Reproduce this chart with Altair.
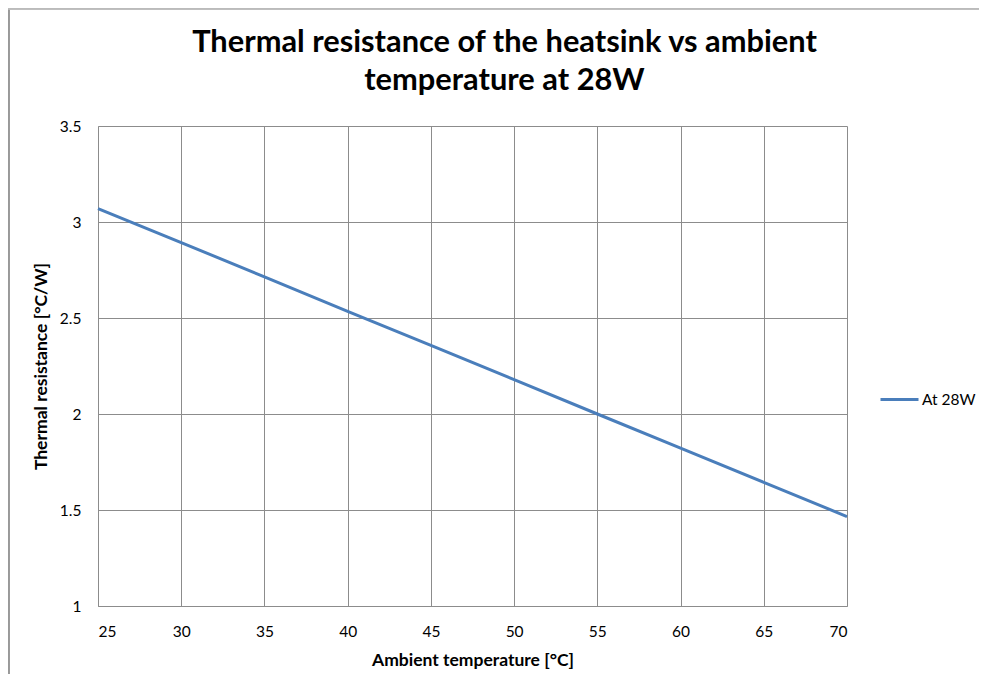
import altair as alt
import pandas as pd

temps = [25, 30, 35, 40, 45, 50, 55, 60, 65, 70]
resist = [3.07, 2.893, 2.714, 2.535, 2.357, 2.179, 2.0, 1.822, 1.644, 1.466]
series = ["At 28W"] * len(temps)
x_ticks = [25, 30, 35, 40, 45, 50, 55, 60, 65, 70]
y_ticks = [1, 1.5, 2, 2.5, 3, 3.5]

df = pd.DataFrame({"temp": temps, "r": resist, "series": series})

W, H = 749, 480
PL, PT, PR, PB = 90, 118, 132, 68
FONT = "Lato"
GRID = "#8c8c8c"

line = alt.Chart(df).mark_line(strokeWidth=3, clip=False).encode(
    x=alt.X("temp:Q", scale=alt.Scale(domain=[25, 70], nice=False, zero=False),
            axis=alt.Axis(values=x_ticks, title="Ambient temperature [°C]",
                          grid=True, gridColor=GRID, domainColor=GRID,
                          tickSize=0, ticks=False, labelPadding=25, labelBaseline="middle",
                          labelFontSize=15.5, labelColor="#000", labelFont=FONT,
                          titleFont=FONT, titleFontSize=17.5, titleFontWeight="bold",
                          titleColor="#000", titleY=54, titleBaseline="middle")),
    y=alt.Y("r:Q", scale=alt.Scale(domain=[1, 3.5], nice=False, zero=False),
            axis=alt.Axis(values=y_ticks, format="~g", title="Thermal resistance [°C/W]",
                          grid=True, gridColor=GRID, domainColor=GRID,
                          tickSize=0, ticks=False, labelPadding=17,
                          labelFontSize=15.5, labelColor="#000", labelFont=FONT,
                          titleFont=FONT, titleFontSize=17.5, titleFontWeight="bold",
                          titleColor="#000", titleX=-57, titleY=H / 2,
                          titleBaseline="middle")),
    color=alt.Color("series:N", scale=alt.Scale(range=["#4A7EBB"]),
                    legend=alt.Legend(title=None, orient="none", legendX=781, legendY=253,
                                      padding=0, symbolType="stroke", symbolSize=1444,
                                      symbolStrokeWidth=3, labelFont=FONT,
                                      labelFontSize=15.5, labelColor="#000",
                                      labelOffset=2)),
)

border_v = alt.Chart(df).mark_rule(color="#999999", strokeWidth=1.5).encode(
    x=alt.value(-PL + 0.5), y=alt.value(-PT + 0.5), y2=alt.value(H + PB)
)
border_h = alt.Chart(df).mark_rule(color="#bbbbbb", strokeWidth=1.5).encode(
    x=alt.value(-PL + 0.5), x2=alt.value(W + PR), y=alt.value(-PT + 0.5)
)

chart = alt.layer(line, border_v, border_h).properties(
    width=W, height=H,
    autosize=alt.AutoSizeParams(type="none"),
    padding={"left": PL, "top": PT, "right": PR, "bottom": PB},
    title=alt.Title(["Thermal resistance of the heatsink vs ambient", "temperature at 28W"],
                    font=FONT, fontSize=30.8, fontWeight="bold", color="#000",
                    anchor="middle", dx=32, offset=0, dy=89, lineHeight=38),
).configure_view(stroke=None)

chart.save("out.html", embed_options={"renderer": "svg", "actions": False})
